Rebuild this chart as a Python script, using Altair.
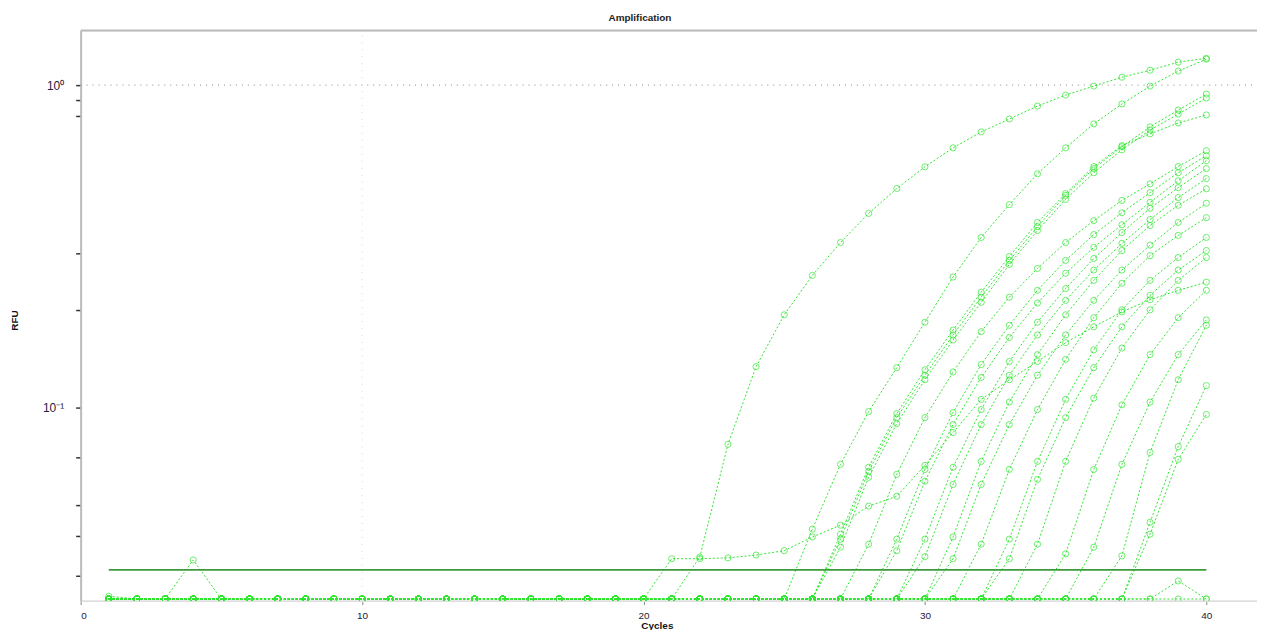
import altair as alt
import pandas as pd

BL = 0.0255  # baseline reading (points sitting on the bottom edge)

cycles = list(range(1, 41))

wells = {
    "A": [BL, BL, BL, BL, BL, BL, BL, BL, BL, BL,
          BL, BL, BL, BL, BL, BL, BL, BL, BL, BL,
          BL, 0.0344, 0.0769, 0.134, 0.194, 0.257, 0.325, 0.400, 0.478, 0.558,
          0.639, 0.716, 0.785, 0.861, 0.931, 0.993, 1.058, 1.112, 1.178, 1.211],
    "F": [BL, BL, BL, BL, BL, BL, BL, BL, BL, BL,
          BL, BL, BL, BL, BL, BL, BL, BL, BL, BL,
          0.0340, 0.0340, 0.0342, 0.0349, 0.0360, 0.0397, 0.0432, 0.0495, 0.0531, 0.0662,
          0.0837, 0.106, 0.122, 0.139, 0.159, 0.178, 0.198, 0.216, 0.231, 0.245],
    "B": [BL, BL, BL, BL, BL, BL, BL, BL, BL, BL,
          BL, BL, BL, BL, BL, BL, BL, BL, BL, BL,
          BL, BL, BL, BL, BL, 0.0420, 0.0667, 0.0972, 0.133, 0.184,
          0.254, 0.337, 0.426, 0.531, 0.639, 0.758, 0.874, 0.993, 1.105, 1.203],
    "C": [BL, BL, BL, BL, BL, BL, BL, BL, BL, BL,
          BL, BL, BL, BL, BL, BL, BL, BL, BL, BL,
          BL, BL, BL, BL, BL, BL, 0.0391, 0.0634, 0.0931, 0.126,
          0.168, 0.220, 0.286, 0.364, 0.455, 0.551, 0.644, 0.742, 0.837, 0.938],
    "D": [BL, BL, BL, BL, BL, BL, BL, BL, BL, BL,
          BL, BL, BL, BL, BL, BL, BL, BL, BL, BL,
          BL, BL, BL, BL, BL, BL, 0.0369, 0.0608, 0.0892, 0.122,
          0.162, 0.212, 0.278, 0.354, 0.442, 0.535, 0.630, 0.726, 0.813, 0.912],
    "E": [BL, BL, BL, BL, BL, BL, BL, BL, BL, BL,
          BL, BL, BL, BL, BL, BL, BL, BL, BL, BL,
          BL, BL, BL, BL, BL, BL, 0.0405, 0.0653, 0.0958, 0.131,
          0.174, 0.228, 0.294, 0.375, 0.461, 0.559, 0.649, 0.706, 0.763, 0.808],
    "G": [BL, BL, BL, BL, BL, BL, BL, BL, BL, BL,
          BL, BL, BL, BL, BL, BL, BL, BL, BL, BL,
          BL, BL, BL, BL, BL, BL, BL, 0.0377, 0.0621, 0.0931,
          0.129, 0.172, 0.220, 0.270, 0.325, 0.380, 0.439, 0.494, 0.559, 0.626],
    "H": [BL, BL, BL, BL, BL, BL, BL, BL, BL, BL,
          BL, BL, BL, BL, BL, BL, BL, BL, BL, BL,
          BL, BL, BL, BL, BL, BL, BL, BL, 0.0391, 0.0643,
          0.0965, 0.136, 0.180, 0.231, 0.286, 0.344, 0.402, 0.464, 0.535, 0.604],
    "I": [BL, BL, BL, BL, BL, BL, BL, BL, BL, BL,
          BL, BL, BL, BL, BL, BL, BL, BL, BL, BL,
          BL, BL, BL, BL, BL, BL, BL, BL, 0.0360, 0.0591,
          0.0886, 0.124, 0.165, 0.211, 0.261, 0.314, 0.369, 0.433, 0.505, 0.583],
    "J": [BL, BL, BL, BL, BL, BL, BL, BL, BL, BL,
          BL, BL, BL, BL, BL, BL, BL, BL, BL, BL,
          BL, BL, BL, BL, BL, BL, BL, BL, BL, 0.0391,
          0.0653, 0.0986, 0.139, 0.184, 0.234, 0.290, 0.349, 0.415, 0.481, 0.551],
    "K": [BL, BL, BL, BL, BL, BL, BL, BL, BL, BL,
          BL, BL, BL, BL, BL, BL, BL, BL, BL, BL,
          BL, BL, BL, BL, BL, BL, BL, BL, BL, 0.0345,
          0.0578, 0.0886, 0.126, 0.168, 0.215, 0.267, 0.323, 0.383, 0.448, 0.513],
    "L": [BL, BL, BL, BL, BL, BL, BL, BL, BL, BL,
          BL, BL, BL, BL, BL, BL, BL, BL, BL, BL,
          BL, BL, BL, BL, BL, BL, BL, BL, BL, BL,
          0.0397, 0.0681, 0.104, 0.146, 0.194, 0.248, 0.307, 0.367, 0.424, 0.477],
    "M": [BL, BL, BL, BL, BL, BL, BL, BL, BL, BL,
          BL, BL, BL, BL, BL, BL, BL, BL, BL, BL,
          BL, BL, BL, BL, BL, BL, BL, BL, BL, BL,
          0.0340, 0.0578, 0.0886, 0.126, 0.168, 0.215, 0.267, 0.319, 0.375, 0.430],
    "N": [BL, BL, BL, BL, BL, BL, BL, BL, BL, BL,
          BL, BL, BL, BL, BL, BL, BL, BL, BL, BL,
          BL, BL, BL, BL, BL, BL, BL, BL, BL, BL,
          BL, 0.0377, 0.0643, 0.0986, 0.141, 0.190, 0.243, 0.296, 0.342, 0.388],
    "O": [BL, BL, BL, BL, BL, BL, BL, BL, BL, BL,
          BL, BL, BL, BL, BL, BL, BL, BL, BL, BL,
          BL, BL, BL, BL, BL, BL, BL, BL, BL, BL,
          BL, BL, 0.0391, 0.0681, 0.106, 0.151, 0.201, 0.248, 0.292, 0.337],
    "P": [BL, BL, BL, BL, BL, BL, BL, BL, BL, BL,
          BL, BL, BL, BL, BL, BL, BL, BL, BL, BL,
          BL, BL, BL, BL, BL, BL, BL, BL, BL, BL,
          BL, BL, 0.0340, 0.0599, 0.0931, 0.133, 0.178, 0.223, 0.267, 0.307],
    "Q": [BL, BL, BL, BL, BL, BL, BL, BL, BL, BL,
          BL, BL, BL, BL, BL, BL, BL, BL, BL, BL,
          BL, BL, BL, BL, BL, BL, BL, BL, BL, BL,
          BL, BL, BL, 0.0377, 0.0681, 0.107, 0.153, 0.201, 0.248, 0.292],
    "R": [BL, BL, BL, BL, BL, BL, BL, BL, BL, BL,
          BL, BL, BL, BL, BL, BL, BL, BL, BL, BL,
          BL, BL, BL, BL, BL, BL, BL, BL, BL, BL,
          BL, BL, BL, BL, 0.0352, 0.0643, 0.102, 0.146, 0.190, 0.231],
    "S": [BL, BL, BL, BL, BL, BL, BL, BL, BL, BL,
          BL, BL, BL, BL, BL, BL, BL, BL, BL, BL,
          BL, BL, BL, BL, BL, BL, BL, BL, BL, BL,
          BL, BL, BL, BL, BL, 0.0369, 0.0667, 0.104, 0.146, 0.187],
    "T": [BL, BL, BL, BL, BL, BL, BL, BL, BL, BL,
          BL, BL, BL, BL, BL, BL, BL, BL, BL, BL,
          BL, BL, BL, BL, BL, BL, BL, BL, BL, BL,
          BL, BL, BL, BL, BL, BL, 0.0347, 0.0726, 0.122, 0.180],
    "U": [BL, BL, BL, BL, BL, BL, BL, BL, BL, BL,
          BL, BL, BL, BL, BL, BL, BL, BL, BL, BL,
          BL, BL, BL, BL, BL, BL, BL, BL, BL, BL,
          BL, BL, BL, BL, BL, BL, BL, 0.0441, 0.0757, 0.117],
    "V": [BL, BL, BL, BL, BL, BL, BL, BL, BL, BL,
          BL, BL, BL, BL, BL, BL, BL, BL, BL, BL,
          BL, BL, BL, BL, BL, BL, BL, BL, BL, BL,
          BL, BL, BL, BL, BL, BL, BL, 0.0405, 0.0691, 0.0952],
    "X1": [0.0260, BL, BL, 0.0337, BL, BL, BL, BL, BL, BL,
           BL, BL, BL, BL, BL, BL, BL, BL, BL, BL,
           BL, BL, BL, BL, BL, BL, BL, BL, BL, BL,
           BL, BL, BL, BL, BL, BL, BL, BL, BL, BL],
    "X2": [BL, BL, BL, BL, BL, BL, BL, BL, BL, BL,
           BL, BL, BL, BL, BL, BL, BL, BL, BL, BL,
           BL, BL, BL, BL, BL, BL, BL, BL, BL, BL,
           BL, BL, BL, BL, BL, BL, BL, BL, 0.0290, BL],
}

threshold = 0.0314
threshold_cycles = [1, 40]
x_domain = [0, 41.8]
y_domain = [0.0252, 1.478]
x_ticks = [0, 10, 20, 30, 40]
y_ticks = [1, 0.9, 0.8, 0.3, 0.2, 0.1, 0.07, 0.05, 0.04, 0.03]

rows = []
for name, vals in wells.items():
    assert len(vals) == 40, name
    for c, v in zip(cycles, vals):
        rows.append({"well": name, "cycle": c, "rfu": v})
df = pd.DataFrame(rows)

GREEN = "#2ee62e"
xs = alt.Scale(domain=x_domain, nice=False, zero=False)
ys = alt.Scale(type="log", domain=y_domain, nice=False)

x_axis = alt.Axis(values=x_ticks, tickSize=4, tickColor="#888", labelFont="Liberation Sans",
                  labelFontSize=10, labelColor="#223", labelPadding=6, domainColor="#ddd",
                  domainWidth=1.5, grid=False, title="Cycles", titleFont="Liberation Sans",
                  titleFontSize=10, titleFontWeight="bold", titleColor="#111",
                  titleX=579, titleY=20, titleAnchor="middle")
y_axis = alt.Axis(values=y_ticks,
                  labelExpr="datum.value == 1 ? '10\u2070' : (datum.value == 0.1 ? '10\u207b\u00b9' : '')",
                  tickSize=5, tickColor="#333", tickWidth=1.5, labelFont="Liberation Sans",
                  labelFontSize=12, labelColor="#224", labelPadding=12, domainColor="#bbb",
                  domainWidth=2, grid=False, labelOverlap=False, title="RFU",
                  titleFont="Liberation Sans", titleFontSize=10, titleFontWeight="bold",
                  titleColor="#111", titleX=-61, titleY=291, titleBaseline="bottom")


def X(field):
    return alt.X(field, scale=xs, axis=x_axis)


def Y(field):
    return alt.Y(field, scale=ys, axis=y_axis)


lines = alt.Chart(df).mark_line(color=GREEN, strokeWidth=1, strokeDash=[2, 2], clip=True).encode(
    x=X("cycle:Q"), y=Y("rfu:Q"), detail="well:N", order="cycle:Q")

points = alt.Chart(df).mark_point(color=GREEN, shape="circle", filled=False, size=38,
                                  strokeWidth=1, clip=True).encode(
    x=X("cycle:Q"), y=Y("rfu:Q"), detail="well:N")

grid_h = alt.Chart(pd.DataFrame({"cycle": [x_domain[0]], "x2": [x_domain[1]], "rfu": [1.0]})).mark_rule(
    color="#888", strokeDash=[1, 5], strokeWidth=1).encode(
    x=X("cycle:Q"), x2="x2:Q", y=Y("rfu:Q"))

grid_v = alt.Chart(pd.DataFrame({"cycle": [10], "rfu": [y_domain[0]], "y2": [y_domain[1]]})).mark_rule(
    color="#d8d8d8", strokeDash=[1, 6], strokeWidth=1).encode(
    x=X("cycle:Q"), y=Y("rfu:Q"), y2="y2:Q")

top_border = alt.Chart(pd.DataFrame({"cycle": [x_domain[0]], "x2": [x_domain[1]], "rfu": [y_domain[1]]})).mark_rule(
    color="#bbb", strokeWidth=2).encode(
    x=X("cycle:Q"), x2="x2:Q", y=Y("rfu:Q"))

thr = alt.Chart(pd.DataFrame({"cycle": [threshold_cycles[0]], "x2": [threshold_cycles[1]], "rfu": [threshold]})).mark_rule(
    color="#3c9a3c", strokeWidth=1.6).encode(
    x=X("cycle:Q"), x2="x2:Q", y=Y("rfu:Q"))

chart = alt.layer(lines, grid_h, grid_v, top_border, thr, points).properties(
    width=1182, height=573,
    title=alt.TitleParams("Amplification", font="Liberation Sans", fontSize=10,
                          fontWeight="bold", color="#222", offset=6, dx=-29),
    padding={"left": 73, "top": 21, "right": 0, "bottom": 28},
    autosize=alt.AutoSizeParams(type="none"),
).configure_view(stroke=None).configure(background="white")

chart.save("out.html", embed_options={"renderer": "svg", "actions": False})
